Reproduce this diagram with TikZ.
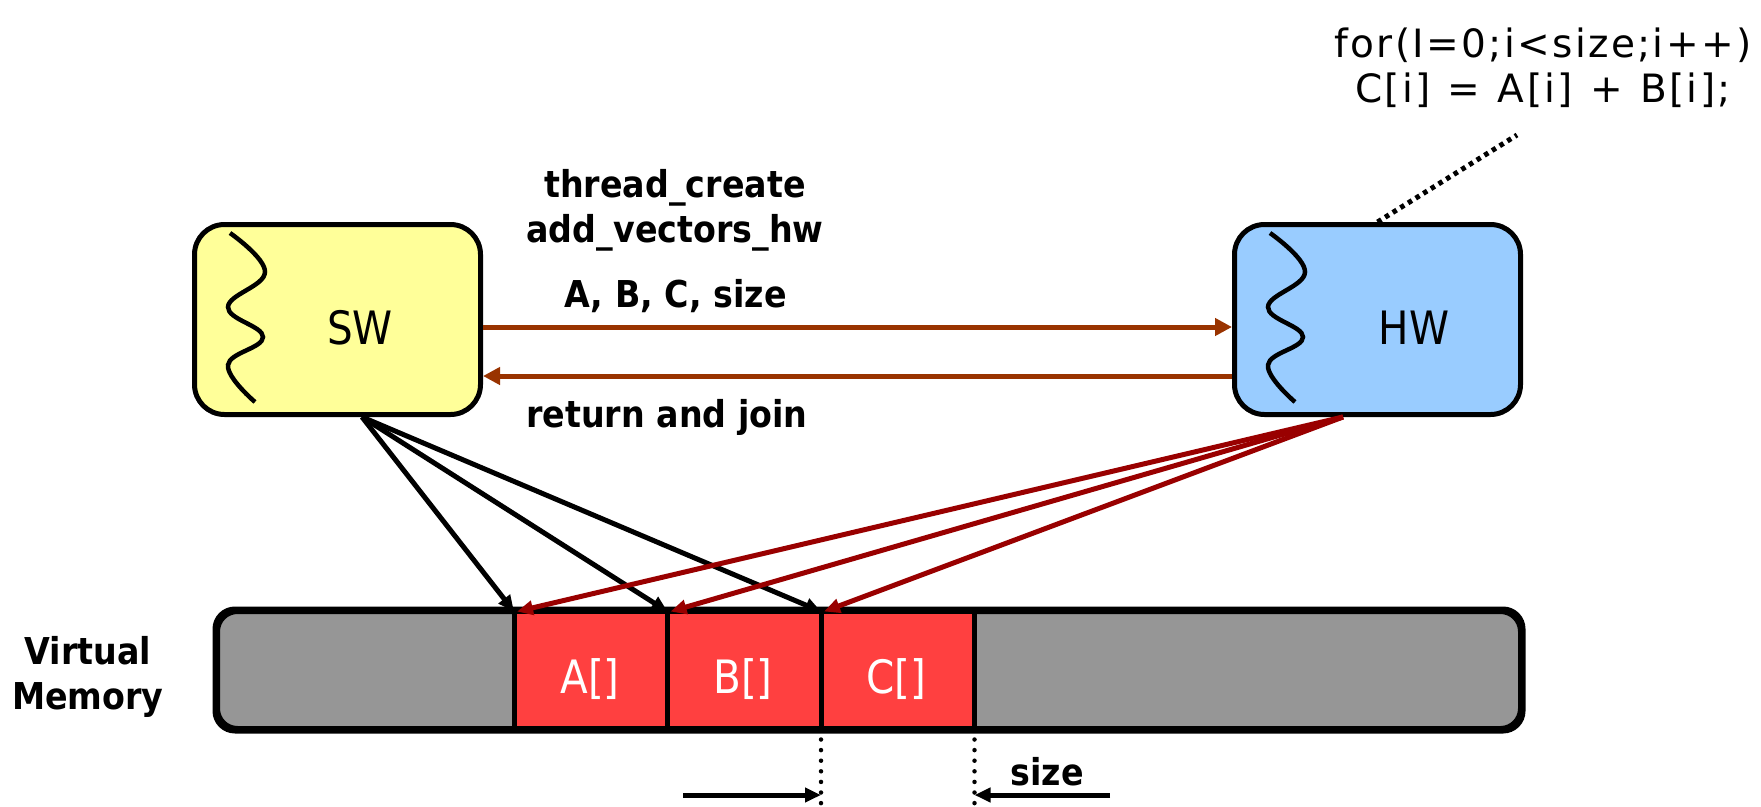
\documentclass[tikz,border=0pt]{standalone}
\usepackage{fontspec}
\usetikzlibrary{arrows.meta}
\newfontfamily\labfont{DejaVu Sans}[FakeStretch=0.9]
\newfontfamily\boxfont{DejaVu Sans}[FakeStretch=0.88]
\newfontfamily\codefont{DejaVu Sans}[LetterSpace=6]
\definecolor{swfill}{HTML}{FFFF99}
\definecolor{hwfill}{HTML}{99CCFF}
\definecolor{callbrown}{HTML}{993300}
\definecolor{hwred}{HTML}{990000}
\definecolor{cellred}{HTML}{FF4040}
\definecolor{memgray}{HTML}{969696}
\begin{document}
\begin{tikzpicture}[x=1pt,y=-1pt,
  threadbox/.style={draw, line width=5pt, rounded corners=30pt,
    minimum width=286pt, minimum height=190pt, inner sep=0pt},
  squig/.style={line width=4.5pt},
  membar/.style={draw, fill=memgray, line width=5pt, rounded corners=20pt,
    minimum width=1303pt, minimum height=117pt, inner sep=0pt},
  cell/.style={draw, fill=cellred, line width=5pt, minimum width=153.5pt,
    minimum height=117pt, inner sep=0pt, outer sep=0pt},
  lab/.style={font=\labfont\bfseries\fontsize{37}{45}\selectfont,
    inner sep=0pt, align=center},
  boxtext/.style={font=\boxfont\fontsize{46}{50}\selectfont, inner sep=0pt, anchor=base},
  celltext/.style={boxtext, text=white},
  code/.style={font=\codefont\fontsize{39}{45}\selectfont, inner sep=0pt, align=center},
  call/.style={draw=callbrown, line width=5pt, -{Triangle[length=17pt,width=17pt]}},
  swfan/.style={line width=5pt, -{Triangle[length=16pt,width=14pt]}},
  hwfan/.style={draw=hwred, line width=5pt, -{Triangle[length=16pt,width=14pt]}},
  notedots/.style={line width=5pt, dash pattern=on 4.5pt off 4.5pt},
  vdots/.style={line width=4.5pt, line cap=round, dash pattern=on 0pt off 10.6pt},
  dimarrow/.style={line width=5pt, -{Triangle[length=16pt,width=14pt]}}
]
\useasboundingbox (0,0) rectangle (1761,806);

% software and hardware threads
\node[threadbox, fill=swfill] (sw) at (337.5,319.5) {};
\node[threadbox, fill=hwfill] (hw) at (1377.5,319.5) {};
\draw[squig, shift={(sw.north west)}] plot[smooth, tension=0.7]
  coordinates {(38,11) (73,50) (36,85) (71,115) (36,143) (63,180)};
\draw[squig, shift={(hw.north west)}] plot[smooth, tension=0.7]
  coordinates {(38,11) (73,50) (36,85) (71,115) (36,143) (63,180)};
\node[boxtext] (swt) at (360,344) {SW};
\node[boxtext] (hwt) at (1414,344) {HW};

% create / join calls
\draw[call] ([yshift=-7.5pt]sw.east) -- ([yshift=-7.5pt]hw.west);
\draw[call] ([yshift=-56.5pt]hw.west) -- ([yshift=-56.5pt]sw.east);
\node[lab] (create) at (675,210) {thread\_create\\add\_vectors\_hw};
\node[lab, anchor=base] (args) at (675.5,307) {A, B, C, size};
\node[lab, anchor=base] (join) at (667,427) {return and join};

% loop body run by the hardware thread
\node[code] (loop) at (1543,68) {for(I=0;i<size;i++)\\C[i]\;\,=\;\,A[i]\;\,+\;\,B[i];};
\coordinate (noteend) at (1517,135);
\draw[notedots] (hw.north) -- (noteend);

% virtual memory with the three arrays
\node[membar] (mem) at (869,670) {};
\node[cell] (a) at (590.75,670) {};
\node[cell] (b) at (744.25,670) {};
\node[cell] (c) at (897.75,670) {};
\draw[line width=5pt, rounded corners=20pt] (mem.north west) rectangle (mem.south east);
\node[celltext] (at) at (590,693) {A[]};
\node[celltext] (bt) at (743,693) {B[]};
\node[celltext] (ct) at (896,693) {C[]};
\node[lab] (vm) at (88,677) {Virtual\\Memory};

% pointers from both threads into memory
\coordinate (swo) at ([xshift=24.5pt]sw.south);
\coordinate (hwo) at ([xshift=-34.5pt]hw.south);
\draw[swfan] (swo) -- (a.north west);
\draw[swfan] (swo) -- (b.north west);
\draw[swfan] (swo) -- (c.north west);
\draw[hwfan] (hwo) -- ([xshift=3pt]a.north west);
\draw[hwfan] (hwo) -- ([xshift=3pt]b.north west);
\draw[hwfan] (hwo) -- ([xshift=3pt]c.north west);

% extent of C[]
\coordinate (d1) at ([yshift=-11pt]c.south west);
\coordinate (d2) at ([yshift=-11pt]c.south east);
\coordinate (d1end) at (821,815);
\coordinate (d2end) at (974.5,815);
\draw[vdots] (d1) -- (d1end);
\draw[vdots] (d2) -- (d2end);
\coordinate (sl) at (683,795);
\coordinate (sr) at (1110,795);
\draw[dimarrow] (sl) -- (sl -| c.south west);
\draw[dimarrow] (sr) -- (sr -| c.south east);
\node[lab, anchor=base] (size) at (1047,785) {size};
\end{tikzpicture}
\end{document}
